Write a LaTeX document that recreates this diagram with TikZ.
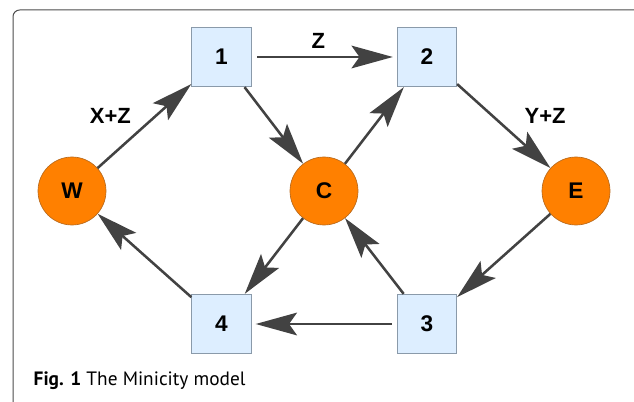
\documentclass[tikz,border=0pt]{standalone}
\usepackage{fontspec}
\setmainfont{Liberation Sans}
\newfontfamily\capfont{PT Sans}
\usetikzlibrary{arrows.meta}
\definecolor{cityorange}{HTML}{FF8000}
\definecolor{cityedge}{HTML}{B86A1E}
\definecolor{zonefill}{HTML}{DDEEFF}
\definecolor{zoneedge}{HTML}{8A9AAA}
\definecolor{flowgray}{HTML}{424242}
\tikzset{
  city/.style={circle, fill=cityorange, draw=cityedge, line width=0.5pt, minimum size=51pt, inner sep=0pt, font=\bfseries\fontsize{17}{17}\selectfont},
  zone/.style={rectangle, fill=zonefill, draw=zoneedge, line width=0.75pt, minimum size=44.5pt, inner sep=0pt, font=\bfseries\fontsize{17}{17}\selectfont},
  flow/.style={flowgray, line width=1.9pt, -{Stealth[length=31pt, width=17pt, inset=6pt]}},
  flowlabel/.style={text=black, font=\bfseries\fontsize{16.5}{16.5}\selectfont}
}
\begin{document}
\begin{tikzpicture}[x=0.75pt, y=-0.75pt]
                \useasboundingbox (0,0) rectangle (634,402);
                \draw[black!70, line width=0.75pt, rounded corners=5pt] (13,402) |- (634,10);
                \node[city] (W) at (72,191) {W};
                \node[city] (C) at (324,191) {C};
                \node[city] (E) at (576,191) {E};
                \node[zone] (z1) at (221.5,57) {1};
                \node[zone] (z2) at (427,57) {2};
                \node[zone] (z3) at (427,324) {3};
                \node[zone] (z4) at (221.5,324) {4};
                \draw[flow] (W) -- (z1) node[flowlabel, midway, xshift=-25.5pt, yshift=7.5pt] {X+Z};
                \draw[flow, shorten <=4pt, shorten >=3pt] (z1) -- (z2) node[flowlabel, midway, xshift=-4.5pt, yshift=12pt] {Z};
                \draw[flow] (z1) -- (C);
                \draw[flow] (C) -- (z2);
                \draw[flow] (z2) -- (E) node[flowlabel, midway, xshift=31pt, yshift=7.5pt] {Y+Z};
                \draw[flow] (E) -- (z3);
                \draw[flow] (z3) -- (C);
                \draw[flow] (C) -- (z4);
                \draw[flow, shorten <=4pt, shorten >=3pt] (z3) -- (z4);
                \draw[flow] (z4) -- (W);
                \node[anchor=base west, font=\capfont\fontsize{14.5}{14.5}\selectfont] (cap) at (29,385) {\textbf{Fig. 1} The Minicity model};
            \end{tikzpicture}
\end{document}
